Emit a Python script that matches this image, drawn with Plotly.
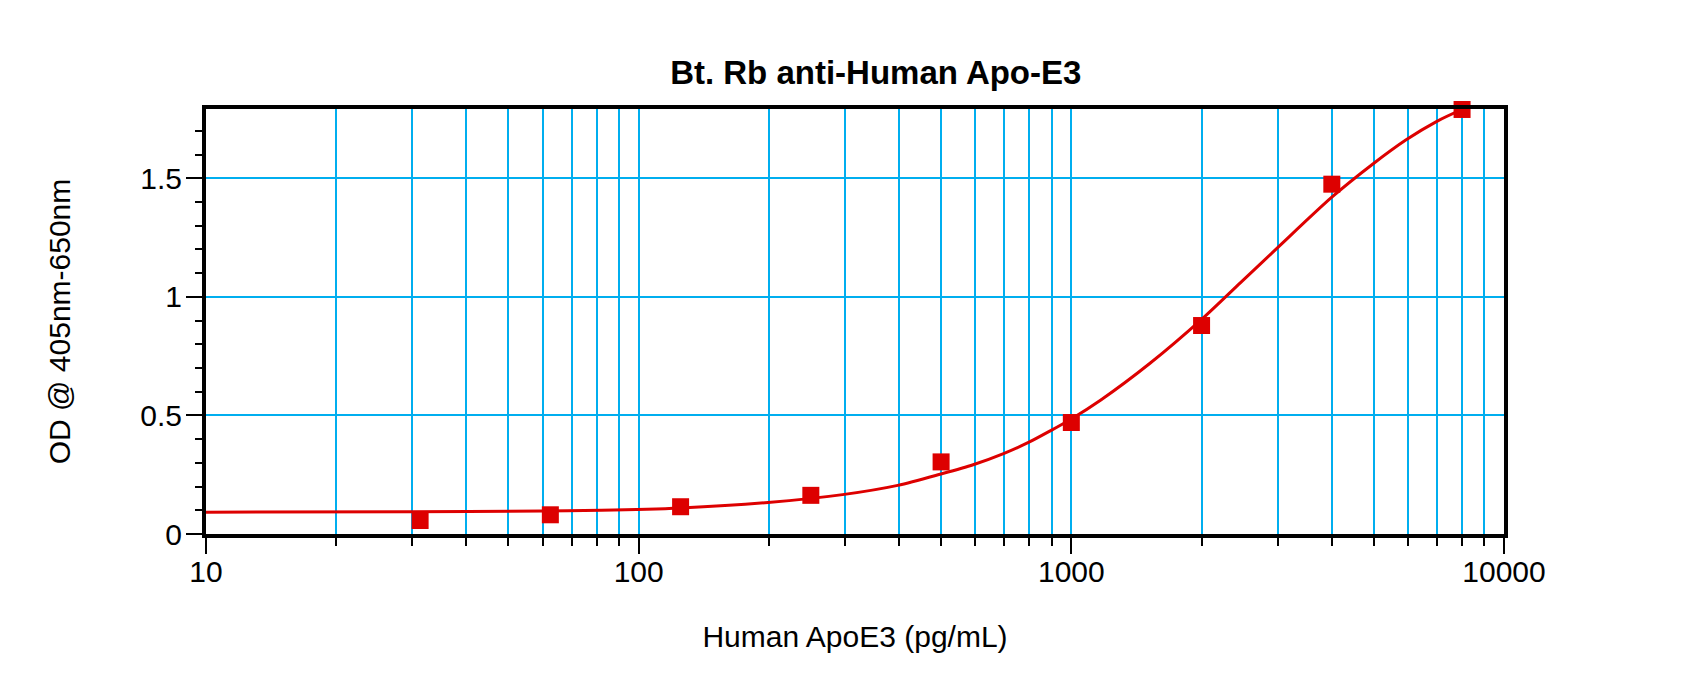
import plotly.graph_objects as go

# Standards (pg/mL) and measured OD
conc = [31.25, 62.5, 125, 250, 500, 1000, 2000, 4000, 8000]
od = [0.057, 0.081, 0.115, 0.163, 0.304, 0.470, 0.879, 1.475, 1.790]

# Fitted curve
curve_x = [10, 30, 60, 82, 125, 199, 296, 397, 500, 593, 697, 796, 896,
           1000, 1170, 1525, 2000, 2461, 2969, 4000, 4977, 5941, 6996, 8000]
curve_y = [0.092, 0.094, 0.097, 0.100, 0.110, 0.133, 0.166, 0.205, 0.253,
           0.292, 0.339, 0.386, 0.436, 0.485, 0.565, 0.722, 0.905, 1.060,
           1.200, 1.420, 1.560, 1.662, 1.740, 1.790]

x_major = [10, 100, 1000, 10000]
x_major_text = ["10", "100", "1000", "10000"]
x_minor = [m * d for d in (10, 100, 1000) for m in range(2, 10)]
y_major = [0, 0.5, 1, 1.5]
y_major_text = ["0", "0.5", "1", "1.5"]

title_text = "Bt. Rb anti-Human Apo-E3"
x_title = "Human ApoE3 (pg/mL)"
y_title = "OD @ 405nm-650nm"

RED = "#DD0000"
BLUE = "#00AEEF"
FONT = "Liberation Sans, Arial, sans-serif"

W, H = 1692, 668

fig = go.Figure()
fig.add_trace(go.Scatter(x=curve_x, y=curve_y, mode="lines",
                         line=dict(color=RED, width=3, shape="spline", smoothing=0.8),
                         hoverinfo="skip", showlegend=False))
fig.add_trace(go.Scatter(x=conc, y=od, mode="markers",
                         marker=dict(symbol="square", size=17, color=RED,
                                     line=dict(width=0)),
                         cliponaxis=False, showlegend=False))

fig.update_layout(
    width=W, height=H,
    margin=dict(l=198, r=196, t=101, b=142),
    paper_bgcolor="white", plot_bgcolor="white",
    font=dict(family=FONT, color="black", size=30),
    title=dict(text="<b>" + title_text + "</b>", x=0.516, xref="paper",
               xanchor="center", y=1 - 64 / H, yref="container",
               yanchor="middle", font=dict(size=33, family=FONT, color="black")),
)

fig.update_xaxes(
    type="log", range=[1, 4],
    tickmode="array", tickvals=x_major, ticktext=x_major_text,
    ticks="outside", ticklen=16, tickwidth=2, tickcolor="black",
    showline=True, linecolor="black", linewidth=4, mirror=True,
    showgrid=True, gridcolor=BLUE, gridwidth=2,
    tickfont=dict(size=30, family=FONT, color="black"),
    ticklabelstandoff=-8,
    minor=dict(tickmode="array", tickvals=x_minor, ticks="outside",
               ticklen=8, tickwidth=2, tickcolor="black",
               showgrid=True, gridcolor=BLUE, gridwidth=1.5),
    title=dict(text=x_title, font=dict(size=30, family=FONT, color="black"),
               standoff=40),
    zeroline=False,
)

fig.update_yaxes(
    range=[0, 1.792],
    tickmode="array", tickvals=y_major, ticktext=y_major_text,
    ticks="outside", ticklen=16, tickwidth=2, tickcolor="black",
    showline=True, linecolor="black", linewidth=4, mirror=True,
    showgrid=True, gridcolor=BLUE, gridwidth=2,
    tickfont=dict(size=30, family=FONT, color="black"),
    ticklabelstandoff=-2,
    minor=dict(dtick=0.1, ticks="outside", ticklen=7, tickwidth=2,
               tickcolor="black", showgrid=False),
    title=dict(text=y_title, font=dict(size=30, family=FONT, color="black"),
               standoff=62),
    zeroline=False,
)

fig.write_html("out.html")
